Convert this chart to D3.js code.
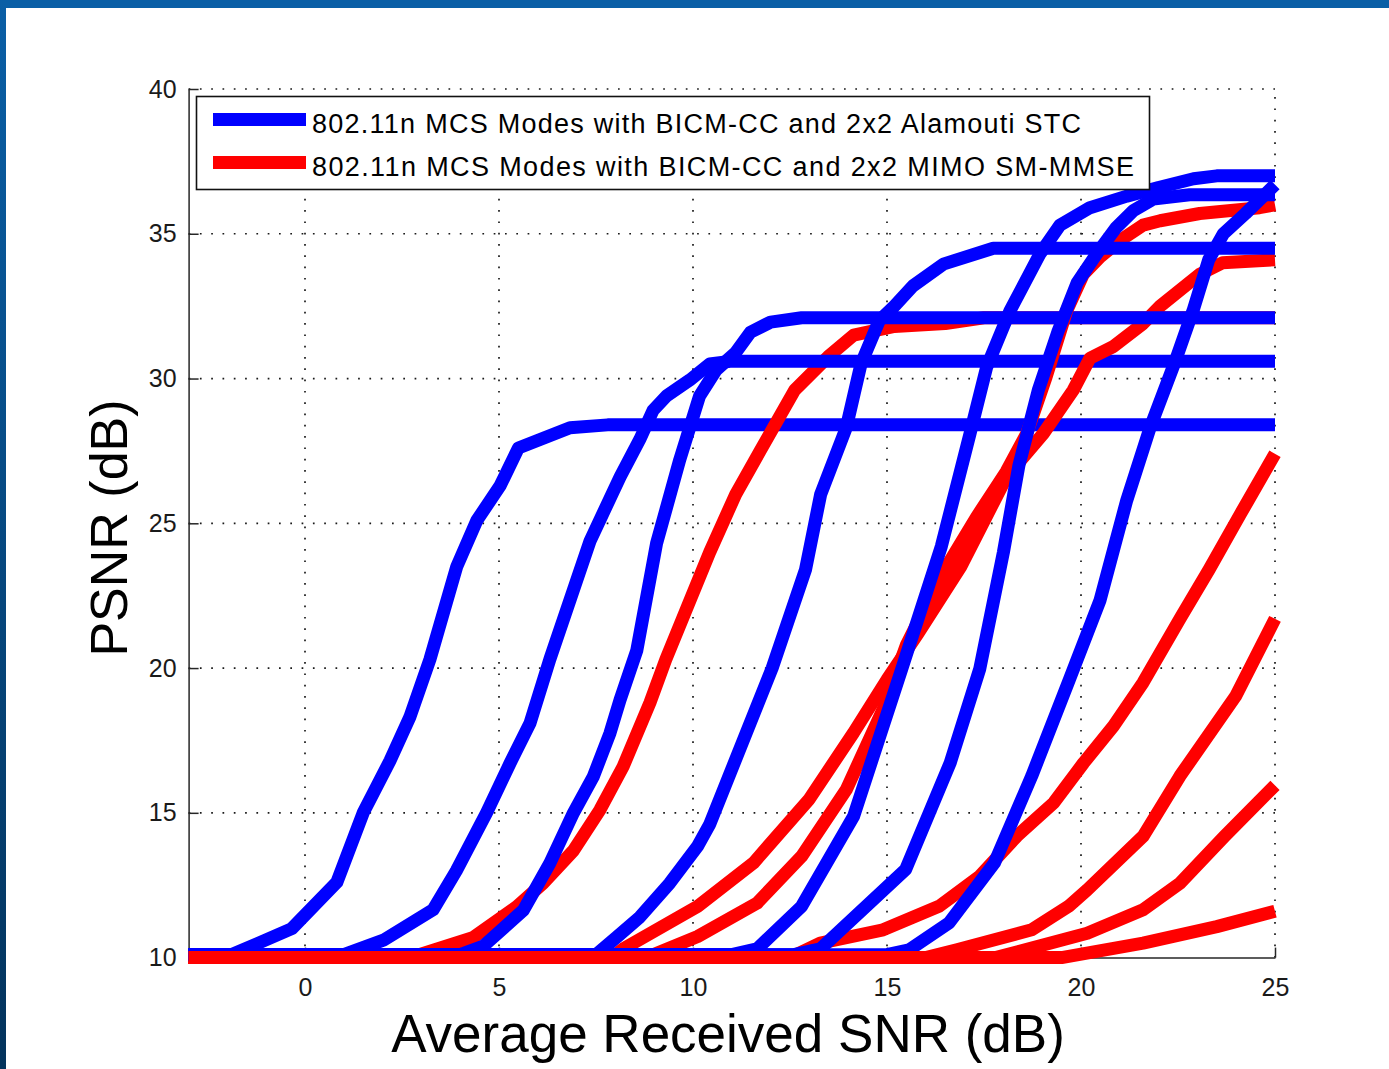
<!DOCTYPE html>
<html>
<head>
<meta charset="utf-8">
<script src="https://d3js.org/d3.v7.min.js"></script>
<style>
  body { margin: 0; background: #fff; }
  .grid line { stroke: #1a1a1a; stroke-width: 1.7; stroke-dasharray: 1.7 9.6; }
  .axis path, .axis line { stroke: #262626; stroke-width: 1.5; }
  .axis text { font-family: "Liberation Sans", Arial, sans-serif; font-size: 25px; fill: #1a1a1a; }
  .curve { fill: none; stroke-width: 13; stroke-linejoin: round; stroke-linecap: butt; }
  .title { font-family: "Liberation Sans", Arial, sans-serif; fill: #000; }
</style>
</head>
<body>
<div id="chart"></div>
<script>
// axis ticks
var snrTicks = [0, 5, 10, 15, 20, 25];
var psnrTicks = [10, 15, 20, 25, 30, 35, 40];

var legendLabels = [
  "802.11n MCS Modes with BICM-CC and 2x2 Alamouti STC",
  "802.11n MCS Modes with BICM-CC and 2x2 MIMO SM-MMSE"
];

// Alamouti STC curves, [SNR dB, PSNR dB]
var stc1 = [[-3,10.1],[-1.9,10.1],[-1.2,10.5],[-0.34,11.0],[0.82,12.6],[1.5,15.0],[2.19,16.8],[2.7,18.3],[3.22,20.3],[3.91,23.5],[4.43,25.1],[5.03,26.3],[5.5,27.6],[6.83,28.3],[7.8,28.4],[25,28.4]];
var stc2 = [[-3,10.1],[1.0,10.1],[2.02,10.6],[3.3,11.65],[3.9,13.0],[4.68,15.0],[5.28,16.7],[5.8,18.1],[6.31,20.3],[7.35,24.4],[8.12,26.6],[8.63,27.9],[8.97,28.9],[9.32,29.4],[9.92,29.95],[10.43,30.5],[11.0,30.6],[25,30.6]];
var stc3 = [[-3,10.1],[4.0,10.1],[4.6,10.4],[5.63,11.64],[6.31,13.26],[6.92,15.0],[7.43,16.25],[7.86,17.75],[8.12,18.9],[8.55,20.6],[9.06,24.3],[9.66,27.2],[10.17,29.4],[10.6,30.3],[11.1,30.9],[11.48,31.6],[12.0,31.95],[12.8,32.1],[25,32.1]];
var stc4 = [[-3,10.1],[7.5,10.1],[8.03,10.7],[8.63,11.4],[9.4,12.57],[10.12,13.85],[10.43,14.6],[12.04,20.0],[12.9,23.4],[13.29,26.0],[13.95,28.3],[14.33,30.5],[14.8,32.0],[15.16,32.46],[15.67,33.2],[16.45,33.95],[17.74,34.5],[25,34.5]];
var stc5 = [[-3,10.1],[11.0,10.1],[11.65,10.3],[12.8,11.77],[14.14,14.88],[15.38,19.97],[16.4,24.2],[17.14,28.1],[17.57,30.4],[18.17,32.34],[18.94,34.3],[19.46,35.3],[20.23,35.9],[21.18,36.3],[22.0,36.6],[22.9,36.9],[23.5,37.0],[25,37.0]];
var stc6 = [[-3,10.1],[12.6,10.1],[13.28,10.3],[15.48,13.04],[16.63,16.73],[17.39,19.97],[18.0,24.0],[18.4,27.0],[18.9,29.6],[19.4,31.6],[19.9,33.3],[20.4,34.3],[20.9,35.2],[21.35,35.8],[21.86,36.2],[22.8,36.35],[25,36.35]];
var stc7 = [[-3,10.1],[15.0,10.1],[15.57,10.27],[16.6,11.2],[17.77,13.27],[18.73,16.27],[19.7,19.6],[20.49,22.34],[21.18,25.8],[21.78,28.3],[22.43,30.6],[22.9,32.4],[23.29,34.1],[23.67,35.0],[24.24,35.7],[24.7,36.3],[25,36.7]];

// MIMO SM-MMSE curves, [SNR dB, PSNR dB]
var sm1 = [[-3,10],[2.7,10.0],[4.34,10.7],[5.46,11.76],[6.14,12.57],[6.92,13.7],[7.6,15.1],[8.2,16.6],[8.89,18.8],[9.3,20.3],[10.43,24.0],[11.1,26.0],[11.73,27.5],[12.62,29.6],[13.48,30.75],[14.14,31.5],[15.19,31.8],[16.5,31.9],[17.5,32.1],[25,32.1]];
var sm2 = [[-3,10],[7.9,10.0],[8.2,10.3],[10.12,11.77],[11.56,13.27],[12.99,15.46],[14.14,17.77],[15.0,19.6],[15.8,21.2],[16.9,23.5],[18.08,26.6],[19.03,28.1],[19.8,29.6],[20.23,30.7],[20.83,31.1],[21.6,31.9],[22.04,32.5],[23.06,33.6],[23.65,34.0],[25,34.1]];
var sm3 = [[-3,10],[8.8,10.0],[10.12,10.73],[11.65,11.88],[12.8,13.5],[13.95,15.8],[14.9,18.58],[15.5,20.8],[16.4,23.2],[17.3,25.2],[18.08,26.8],[18.6,28.1],[19.1,30.05],[19.63,32.34],[20.06,33.6],[20.49,34.2],[21.0,34.76],[21.6,35.3],[22.04,35.45],[23.06,35.7],[24.6,35.9],[25,36.0]];
var sm4 = [[-3,10],[12.5,10.0],[13.28,10.5],[14.9,10.96],[16.34,11.77],[17.39,12.81],[18.35,14.2],[19.3,15.35],[20.07,16.73],[20.84,18.0],[21.6,19.5],[22.55,21.7],[23.3,23.4],[24.1,25.3],[25,27.4]];
var sm5 = [[-3,10],[16.0,10.0],[16.8,10.27],[18.73,10.96],[19.68,11.77],[20.16,12.34],[21.6,14.19],[22.55,16.27],[23.99,19.04],[25,21.7]];
var sm6 = [[-3,10],[17.8,10.0],[20.16,10.84],[21.6,11.65],[22.55,12.57],[23.7,14.19],[25,15.95]];
var sm7 = [[-3,10],[19.5,10.0],[21.6,10.5],[23.5,11.07],[25,11.6]];

var stcSeries = [stc1, stc2, stc3, stc4, stc5, stc6, stc7];
var smSeries = [sm1, sm2, sm3, sm4, sm5, sm6, sm7];

var width = 1389,
    height = 1069;

var svg = d3.select("#chart").append("svg")
    .attr("width", width)
    .attr("height", height);

// page frame: blue bar on top and left
var grad = svg.append("defs").append("linearGradient")
    .attr("id", "frameGrad")
    .attr("x1", 0).attr("y1", 0).attr("x2", 0).attr("y2", 1);
grad.append("stop").attr("offset", "0%").attr("stop-color", "#0a5fa6");
grad.append("stop").attr("offset", "100%").attr("stop-color", "#03335c");

svg.append("rect").attr("x", 0).attr("y", 0).attr("width", width).attr("height", 8).attr("fill", "#0a5fa6");
svg.append("rect").attr("x", 0).attr("y", 0).attr("width", 6).attr("height", height).attr("fill", "url(#frameGrad)");

var x = d3.scaleLinear().domain([-3, 25]).range([188.6, 1275]);
var y = d3.scaleLinear().domain([10, 40]).range([957.6, 89]);

// dotted grid
var grid = svg.append("g").attr("class", "grid");
grid.selectAll(".gy")
    .data(psnrTicks.filter(function(d) { return d > 10; }))
  .enter().append("line")
    .attr("x1", x(-3)).attr("x2", x(25))
    .attr("y1", function(d) { return y(d); })
    .attr("y2", function(d) { return y(d); });
grid.selectAll(".gx")
    .data(snrTicks)
  .enter().append("line")
    .attr("y1", y(10)).attr("y2", y(40))
    .attr("x1", function(d) { return x(d); })
    .attr("x2", function(d) { return x(d); });

// axes (left and bottom only, ticks inward)
svg.append("g")
    .attr("class", "axis")
    .attr("transform", "translate(0," + y(10) + ")")
    .call(d3.axisBottom(x).tickValues(snrTicks).tickSizeInner(-10).tickSizeOuter(0).tickPadding(21));

svg.append("g")
    .attr("class", "axis")
    .attr("transform", "translate(" + x(-3) + ",0)")
    .call(d3.axisLeft(y).tickValues(psnrTicks).tickSizeInner(-10).tickSizeOuter(0).tickPadding(12));

// curves, drawn pairwise like the original plot loop
var line = d3.line()
    .x(function(d) { return x(d[0]); })
    .y(function(d) { return y(d[1]); });

var curves = svg.append("g");
for (var i = 0; i < stcSeries.length; i++) {
  curves.append("path").datum(stcSeries[i])
      .attr("class", "curve").attr("stroke", "#0000ff").attr("d", line);
  curves.append("path").datum(smSeries[i])
      .attr("class", "curve").attr("stroke", "#ff0000").attr("d", line);
}

// legend
var legend = svg.append("g");
legend.append("rect")
    .attr("x", 196.5).attr("y", 96.5)
    .attr("width", 953).attr("height", 93)
    .attr("fill", "#fff").attr("stroke", "#111").attr("stroke-width", 1.6);

var legendColors = ["#0000ff", "#ff0000"];
var legendWidths = [769, 822];
legendLabels.forEach(function(label, i) {
  var ly = 119.5 + i * 43;
  legend.append("line")
      .attr("x1", 213).attr("x2", 306)
      .attr("y1", ly).attr("y2", ly)
      .attr("stroke", legendColors[i]).attr("stroke-width", 13);
  legend.append("text")
      .attr("class", "title")
      .attr("x", 312).attr("y", ly + 13)
      .attr("font-size", 27)
      .attr("fill", "#1a1a1a")
      .attr("textLength", legendWidths[i])
      .attr("lengthAdjust", "spacing")
      .text(label);
});

// axis titles
svg.append("text")
    .attr("class", "title")
    .attr("x", 728).attr("y", 1052)
    .attr("text-anchor", "middle")
    .attr("font-size", 53)
    .text("Average Received SNR (dB)");

svg.append("text")
    .attr("class", "title")
    .attr("transform", "translate(127,528) rotate(-90)")
    .attr("text-anchor", "middle")
    .attr("font-size", 52)
    .text("PSNR (dB)");
</script>
</body>
</html>
